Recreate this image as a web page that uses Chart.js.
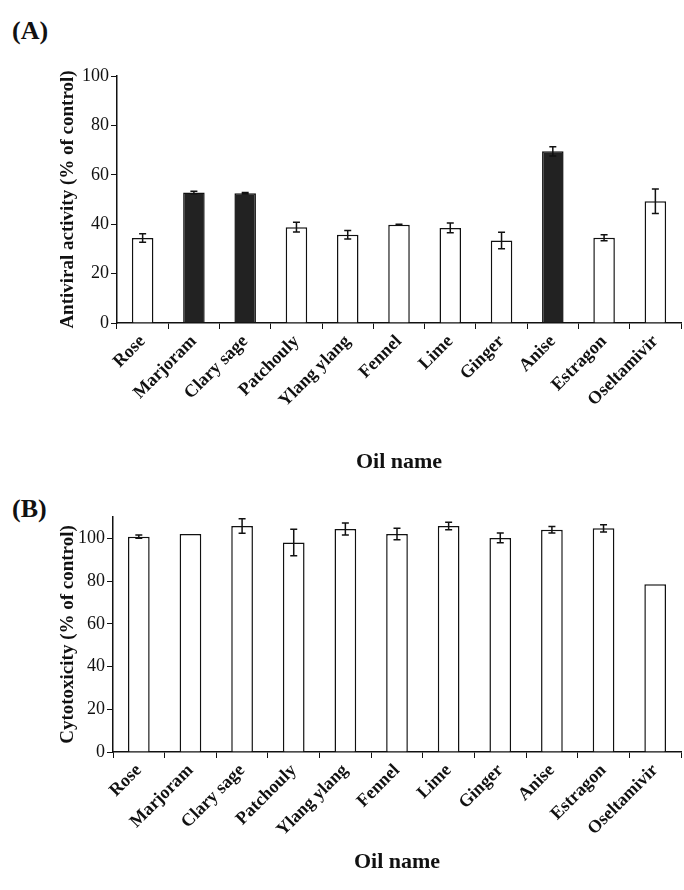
<!DOCTYPE html>
<html><head><meta charset="utf-8">
<script src="https://cdn.jsdelivr.net/npm/chart.js@4/dist/chart.umd.min.js"></script>
<style>
body{margin:0;background:#fff;width:684px;height:890px;position:relative;overflow:hidden}
.c{position:absolute;left:0;width:684px}
.lab{position:absolute;font:bold 26px "Liberation Serif",serif;color:#111}
</style></head><body>
<div class="lab" style="left:12px;top:16px">(A)</div>
<div class="lab" style="left:12px;top:494px">(B)</div>
<div class="c" style="top:60px;height:420px"><canvas id="a"></canvas></div>
<div class="c" style="top:500px;height:380px"><canvas id="b"></canvas></div>
<script>
const categories=["Rose","Marjoram","Clary sage","Patchouly","Ylang ylang","Fennel","Lime","Ginger","Anise","Estragon","Oseltamivir"];
const antiviral=[34.4,52.8,52.5,38.8,35.7,39.8,38.5,33.4,69.5,34.5,49.3];
const antiviralErr=[1.7,0.5,0.3,2.0,1.7,0.2,2.0,3.3,1.9,1.2,5.0];
const antiviralDark=[false,true,true,false,false,false,false,false,true,false,false];
const cytotox=[100.8,102,105.8,98.1,104.4,102,105.8,100.2,104,104.7,78.5];
const cytotoxErr=[0.8,0,3.4,6.2,2.8,2.7,1.8,2.3,1.5,1.7,0];
const yTicksA=[0,20,40,60,80,100];
const yTicksB=[0,20,40,60,80,100];

const errPlugin={id:'err',afterDatasetsDraw(ch,a,opt){
  const ctx=ch.ctx,meta=ch.getDatasetMeta(0),ys=ch.scales.y,vals=ch.data.datasets[0].data,errs=opt.errs;
  ctx.save();ctx.strokeStyle='#111';ctx.lineWidth=1.5;
  meta.data.forEach((bar,i)=>{const e=errs[i];if(!e)return;
    const x=bar.x,t=ys.getPixelForValue(vals[i]+e),b=ys.getPixelForValue(vals[i]-e);
    ctx.beginPath();ctx.moveTo(x,t);ctx.lineTo(x,b);ctx.moveTo(x-3.5,t);ctx.lineTo(x+3.5,t);ctx.moveTo(x-3.5,b);ctx.lineTo(x+3.5,b);ctx.stroke();});
  ctx.restore();}};

function make(id,data,errs,colors,max,ticks,ytitle,xh,tpad,ywidth,lpad){
  return new Chart(document.getElementById(id),{type:'bar',
    data:{labels:categories,datasets:[{data:data,backgroundColor:colors,borderColor:'#111',borderWidth:1.5,barPercentage:0.42,categoryPercentage:1}]},
    options:{responsive:true,maintainAspectRatio:false,animation:false,
      layout:{padding:{top:id==='a'?16:17,right:3,left:lpad,bottom:0}},
      plugins:{legend:{display:false},tooltip:{enabled:false},err:{errs:errs}},
      scales:{
        x:{offset:true,grid:{offset:true,drawOnChartArea:false,tickLength:6,color:'#111',tickWidth:1},border:{color:'#111',width:1.5},
          ticks:{color:'#111',minRotation:45,maxRotation:45,font:{family:'Liberation Serif',weight:'bold',size:18},padding:2},
          title:{display:true,text:'Oil name',color:'#111',font:{family:'Liberation Serif',weight:'bold',size:22},padding:{top:tpad}},
          afterFit(s){s.height=xh;}},
        y:{min:0,max:max,afterBuildTicks(s){s.ticks=ticks.map(v=>({value:v}));},
          grid:{drawOnChartArea:false,tickLength:6,color:'#111'},border:{color:'#111',width:1.5},
          ticks:{color:'#111',font:{family:'Liberation Sans Narrow',size:18},padding:2},
          title:{display:true,text:ytitle,color:'#111',font:{family:'Liberation Serif',weight:'bold',size:19},padding:0},
          afterFit(s){s.width=ywidth;}}
      }},plugins:[errPlugin]});
}
make('a',antiviral,antiviralErr,antiviralDark.map(d=>d?'#222':'#fff'),100,yTicksA,'Antiviral activity (% of control)',157,6,60,57);
make('b',cytotox,cytotoxErr,cytotox.map(()=>'#fff'),110,yTicksB,'Cytotoxicity (% of control)',128,0,56,57);
</script></body></html>
